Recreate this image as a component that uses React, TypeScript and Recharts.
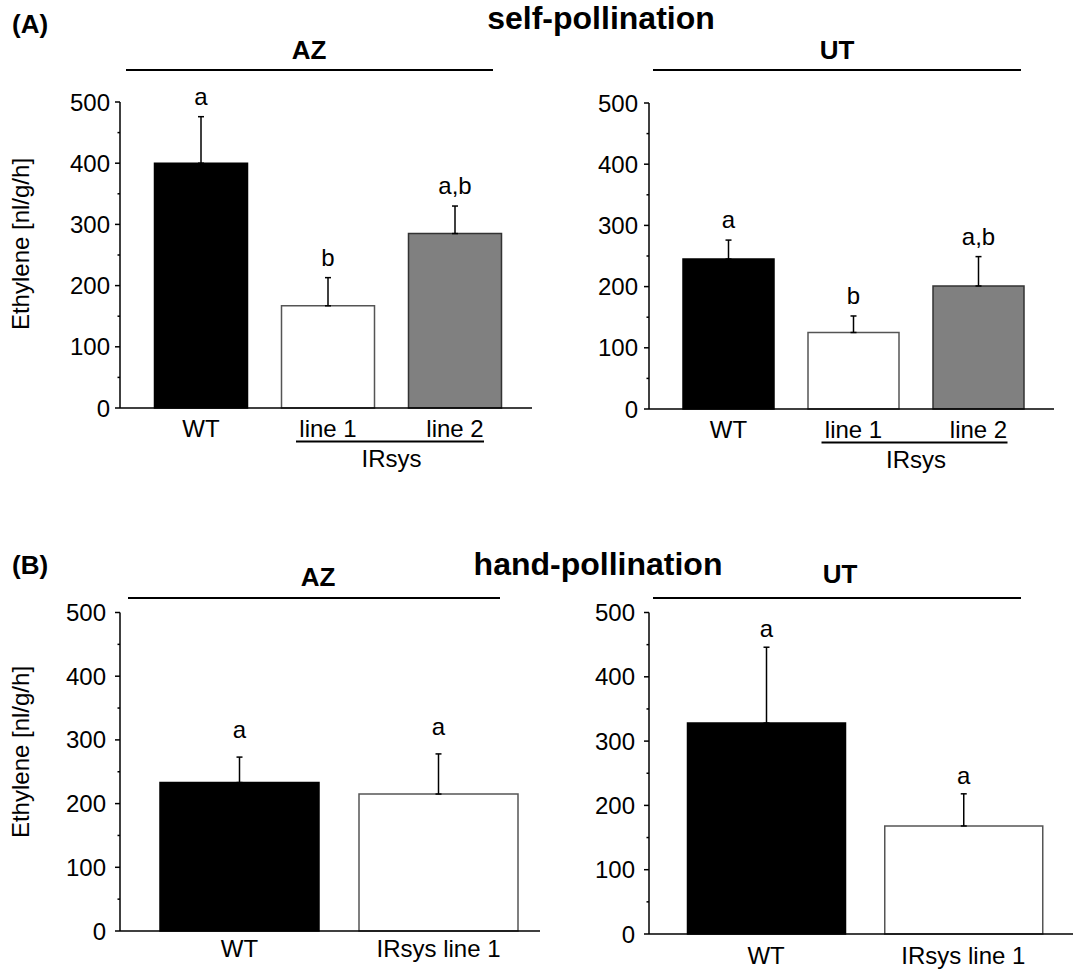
import React from "react";
import { BarChart, Bar, XAxis, YAxis, ErrorBar, LabelList, Cell } from "recharts";

const FONT = '"Liberation Sans", Arial, sans-serif';
const FS = 24;

// (A) self-pollination
const selfCategories = ["WT", "line 1", "line 2"];
const selfAZ = [400, 167, 285];
const selfAZErr = [76, 46, 45];
const selfAZLetters = ["a", "b", "a,b"];
const selfUT = [245, 125, 201];
const selfUTErr = [31, 27, 48];
const selfUTLetters = ["a", "b", "a,b"];

// (B) hand-pollination
const handCategories = ["WT", "IRsys line 1"];
const handAZ = [233, 215];
const handAZErr = [40, 63];
const handAZLetters = ["a", "a"];
const handUT = [328, 168];
const handUTErr = [118, 50];
const handUTLetters = ["a", "a"];

const yTicks = [0, 50, 100, 150, 200, 250, 300, 350, 400, 450, 500];
const groupName = "IRsys";
const yTitle = "Ethylene [nl/g/h]";

const barFills = ["#000000", "#ffffff", "#808080"];
const barStrokes = ["#000000", "#555555", "#333333"];

type PanelProps = {
  categories: string[];
  values: number[];
  errors: number[];
  letters: string[];
  box: { x: number; y: number; w: number; h: number };
  plot: { l: number; t: number; r: number; b: number };
  padL: number;
  padR: number;
  barSize: number;
  yGap: number;
  xGap: number;
  letterGap: number;
  grouped?: boolean;
};

function Panel(p: PanelProps) {
  const data = p.categories.map((name, i) => ({
    name,
    value: p.values[i],
    err: [0, p.errors[i]],
    letter: p.letters[i],
  }));
  const band = (p.plot.r - p.plot.l - p.padL - p.padR) / p.categories.length;

  const xTick = (props: any) => {
    const { x, y, payload } = props;
    return (
      <g>
        <text x={x} y={y} dy="0.71em" textAnchor="middle" fontSize={FS} fontFamily={FONT} fill="#000">
          {payload.value}
        </text>
        {p.grouped && payload.index === 2 && (
          <g>
            <line x1={x - band - 32} x2={x + 29} y1={y + 21.5} y2={y + 21.5} stroke="#000" strokeWidth={2} />
            <text x={x - band / 2} y={y + 30} dy="0.71em" textAnchor="middle" fontSize={FS} fontFamily={FONT} fill="#000">
              {groupName}
            </text>
          </g>
        )}
      </g>
    );
  };

  const yTick = (props: any) => {
    const { x, y, payload } = props;
    const ax = x + p.yGap;
    const major = payload.value % 100 === 0;
    return (
      <g>
        <line x1={ax} x2={ax - (major ? 5 : 2.5)} y1={y} y2={y} stroke="#000" strokeWidth={1.5} />
        {major && (
          <text x={x} y={y} dy="0.355em" textAnchor="end" fontSize={FS} fontFamily={FONT} fill="#000">
            {payload.value}
          </text>
        )}
      </g>
    );
  };

  const letterLabel = (props: any) => {
    const vb = props.viewBox ?? props;
    const i = props.index;
    const bx = Number(vb.x);
    const by = Number(vb.y);
    const bw = Number(vb.width);
    const bh = Number(vb.height);
    const scale = bh / p.values[i];
    const top = by - p.errors[i] * scale;
    return (
      <text x={bx + bw / 2} y={top - p.letterGap} textAnchor="middle" fontSize={FS} fontFamily={FONT} fill="#000">
        {p.letters[i]}
      </text>
    );
  };

  return (
    <div style={{ position: "absolute", left: p.box.x, top: p.box.y }}>
      <BarChart
        width={p.box.w}
        height={p.box.h}
        data={data}
        margin={{ top: p.plot.t - p.box.y, right: p.box.x + p.box.w - p.plot.r, bottom: 0, left: 0 }}
      >
        <XAxis
          dataKey="name"
          height={p.box.y + p.box.h - p.plot.b}
          padding={{ left: p.padL, right: p.padR }}
          tickLine={false}
          tickSize={0}
          tickMargin={p.xGap}
          interval={0}
          axisLine={{ stroke: "#000", strokeWidth: 1.5 }}
          tick={xTick}
        />
        <YAxis
          width={p.plot.l - p.box.x}
          domain={[0, 500]}
          ticks={yTicks}
          interval={0}
          tickLine={false}
          tickSize={0}
          tickMargin={p.yGap}
          axisLine={{ stroke: "#000", strokeWidth: 1.5 }}
          tick={yTick}
        />
        <Bar dataKey="value" barSize={p.barSize} strokeWidth={1.5} isAnimationActive={false}>
          {data.map((d, i) => (
            <Cell key={d.name} fill={barFills[i]} stroke={barStrokes[i]} />
          ))}
          <ErrorBar dataKey="err" width={3} stroke="#000" strokeWidth={1.5} direction="y" isAnimationActive={false} />
          <LabelList dataKey="letter" content={letterLabel} />
        </Bar>
      </BarChart>
    </div>
  );
}

const bold = { fontFamily: FONT, fontWeight: 700, fill: "#000" } as const;

export default function App() {
  return (
    <div style={{ position: "absolute", left: 0, top: 0, width: 1073, height: 976, background: "#fff" }}>
      <Panel
        categories={selfCategories}
        values={selfAZ}
        errors={selfAZErr}
        letters={selfAZLetters}
        box={{ x: 0, y: 80, w: 540, h: 400 }}
        plot={{ l: 120, t: 102, r: 532, b: 408 }}
        padL={17.5}
        padR={13.5}
        barSize={93}
        yGap={10}
        xGap={12}
        letterGap={12}
        grouped
      />
      <Panel
        categories={selfCategories}
        values={selfUT}
        errors={selfUTErr}
        letters={selfUTLetters}
        box={{ x: 540, y: 80, w: 533, h: 400 }}
        plot={{ l: 649, t: 103, r: 1054, b: 409 }}
        padL={17}
        padR={13}
        barSize={91}
        yGap={11}
        xGap={12}
        letterGap={12}
        grouped
      />
      <Panel
        categories={handCategories}
        values={handAZ}
        errors={handAZErr}
        letters={handAZLetters}
        box={{ x: 0, y: 600, w: 540, h: 376 }}
        plot={{ l: 120, t: 612.5, r: 540, b: 931 }}
        padL={20}
        padR={2}
        barSize={159}
        yGap={14}
        xGap={8.5}
        letterGap={19}
      />
      <Panel
        categories={handCategories}
        values={handUT}
        errors={handUTErr}
        letters={handUTLetters}
        box={{ x: 540, y: 600, w: 533, h: 376 }}
        plot={{ l: 649, t: 612.5, r: 1073, b: 934 }}
        padL={18.5}
        padR={11}
        barSize={158}
        yGap={14}
        xGap={12.5}
        letterGap={10}
      />
      <svg width={1073} height={976} style={{ position: "absolute", left: 0, top: 0, pointerEvents: "none" }}>
        <text x={12} y={33} fontSize={26} {...bold}>(A)</text>
        <text x={601} y={29} fontSize={32} textAnchor="middle" {...bold}>self-pollination</text>
        <text x={309} y={59} fontSize={26} textAnchor="middle" {...bold}>AZ</text>
        <text x={837} y={59} fontSize={26} textAnchor="middle" {...bold}>UT</text>
        <line x1={126} x2={493} y1={70} y2={70} stroke="#000" strokeWidth={2} />
        <line x1={653} x2={1021} y1={70} y2={70} stroke="#000" strokeWidth={2} />
        <text x={12} y={574} fontSize={26} {...bold}>(B)</text>
        <text x={598} y={575} fontSize={32} textAnchor="middle" {...bold}>hand-pollination</text>
        <text x={318} y={586} fontSize={26} textAnchor="middle" {...bold}>AZ</text>
        <text x={840} y={583} fontSize={26} textAnchor="middle" {...bold}>UT</text>
        <line x1={128} x2={500} y1={598} y2={598} stroke="#000" strokeWidth={2} />
        <line x1={653} x2={1021} y1={598} y2={598} stroke="#000" strokeWidth={2} />
        <text x={29} y={244} fontSize={FS} fontFamily={FONT} textAnchor="middle" transform="rotate(-90 29 244)">
          {yTitle}
        </text>
        <text x={29} y={752} fontSize={FS} fontFamily={FONT} textAnchor="middle" transform="rotate(-90 29 752)">
          {yTitle}
        </text>
      </svg>
    </div>
  );
}
